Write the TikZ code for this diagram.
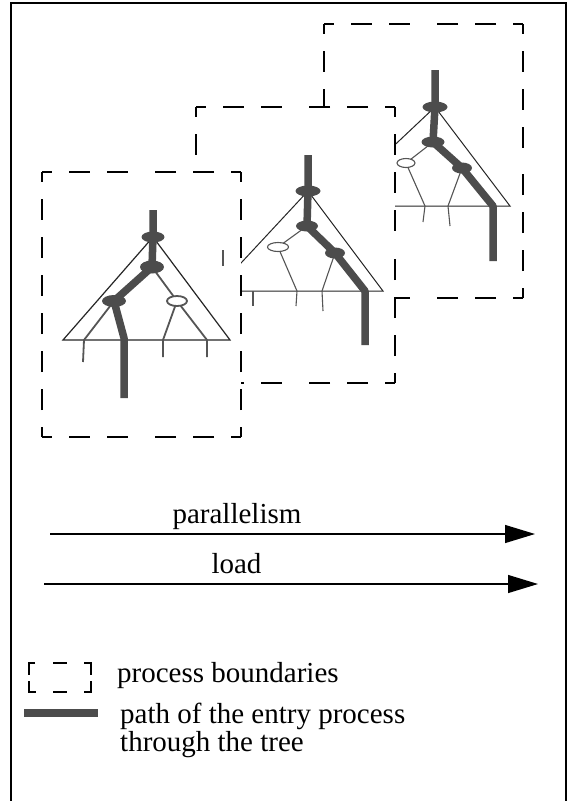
\documentclass[tikz,border=0pt]{standalone}
\usepackage{fontspec}
\setmainfont{Liberation Serif}
\usetikzlibrary{shapes.geometric,arrows.meta,calc}
\definecolor{pathgrey}{RGB}{76,76,76}
\definecolor{thingrey}{RGB}{85,85,85}
\newcommand\procbox[4]{%
  \fill[white] (#1,#2) rectangle (#3,#4);
  \foreach \ax/\ay/\bx/\by in {#1/#2/#3/#2, #3/#2/#3/#4, #3/#4/#1/#4, #1/#4/#1/#2}{%
    \draw[dashline] (\ax,\ay) -- ({(\ax+\bx)/2},{(\ay+\by)/2});
    \draw[dashline] (\bx,\by) -- ({(\ax+\bx)/2},{(\ay+\by)/2});
  }%
}
\begin{document}
\begin{tikzpicture}[x=1pt,y=-1pt,
  frameline/.style={line width=1.5pt,black},
  dashline/.style={line width=1.3pt,black,dash pattern=on 21pt off 17pt,dash phase=11pt},
  entrypath/.style={line width=7.5pt,draw=pathgrey,line join=round},
  twig/.style={line width=1.1pt,draw=thingrey},
  twigheavy/.style={line width=1.8pt,draw=thingrey},
  hull/.style={line width=1pt,draw=black!85},
  fnode/.style={ellipse,fill=pathgrey,draw=none,inner sep=0pt},
  onode/.style={ellipse,fill=white,draw=thingrey,line width=1.1pt,inner sep=0pt},
  lbl/.style={font=\fontsize{29}{24}\selectfont,inner sep=0pt},
  arr/.style={line width=1.2pt,-{Triangle[length=30pt,width=18pt]}},
  legdash/.style={line width=1.2pt,black}
]
\useasboundingbox (0,0) rectangle (577,801);
% outer frame
\draw[frameline] (11,801) -- (11,3) -- (566,3) -- (566,801);

% ---------- process 3 (back) ----------
\procbox{324}{24}{523}{298}
\coordinate (t3top) at (435,70);
\coordinate (t3a) at (435,107);
\coordinate (t3b) at (433,142);
\coordinate (t3c) at (462,168);
\coordinate (t3bend) at (493,206);
\coordinate (t3end) at (493,261);
\coordinate (t3d) at (406,163);
\coordinate (t3l) at (330,206);
\coordinate (t3r) at (510,206);
\coordinate (t3p1) at (425,206); \coordinate (t3q1) at (423,222);
\coordinate (t3p2) at (448,206); \coordinate (t3q2) at (450,226);
\draw[hull] (t3a) -- (t3l) -- (t3r) -- cycle;
\draw[twig] (t3b) -- (t3d);
\draw[twig] (t3d) -- (t3p1) -- (t3q1);
\draw[twig] (t3c) -- (t3p2) -- (t3q2);
\draw[entrypath] (t3top) -- (t3a) -- (t3b) -- (t3c) -- (t3bend) -- (t3end);
\node[fnode,minimum width=25pt,minimum height=11pt] (T3A) at (t3a) {};
\node[fnode,minimum width=23pt,minimum height=11pt] (T3B) at (t3b) {};
\node[fnode,minimum width=20pt,minimum height=11pt] (T3C) at (t3c) {};
\node[onode,minimum width=18pt,minimum height=9pt] (T3D) at (t3d) {};

% ---------- process 2 (middle) ----------
\procbox{196}{107}{395}{383}
\coordinate (t2top) at (308,155);
\coordinate (t2a) at (308,191);
\coordinate (t2b) at (307,226);
\coordinate (t2c) at (335,253);
\coordinate (t2bend) at (365,291);
\coordinate (t2end) at (365,345);
\coordinate (t2d) at (278,247);
\coordinate (t2l) at (215,291);
\coordinate (t2r) at (383,291);
\coordinate (t2p0) at (253,291); \coordinate (t2q0) at (253,306);
\coordinate (t2p1) at (297,291); \coordinate (t2q1) at (296,306);
\coordinate (t2p2) at (322,291); \coordinate (t2q2) at (323,311);
\draw[hull] (t2a) -- (t2l) -- (t2r) -- cycle;
\draw[twig] (t2p0) -- (t2q0);
\draw[twig] (t2b) -- (t2d);
\draw[twig] (t2d) -- (t2p1) -- (t2q1);
\draw[twig] (t2c) -- (t2p2) -- (t2q2);
\draw[entrypath] (t2top) -- (t2a) -- (t2b) -- (t2c) -- (t2bend) -- (t2end);
\node[fnode,minimum width=25pt,minimum height=11pt] (T2A) at (t2a) {};
\node[fnode,minimum width=22pt,minimum height=11pt] (T2B) at (t2b) {};
\node[fnode,minimum width=20pt,minimum height=11pt] (T2C) at (t2c) {};
\node[onode,minimum width=21pt,minimum height=9pt] (T2D) at (t2d) {};

% ---------- process 1 (front) ----------
\procbox{42}{172}{241}{437}
\coordinate (t2s1) at (223,250); \coordinate (t2s2) at (223,266);
\draw[twig] (t2s1) -- (t2s2);
\coordinate (t1top) at (153,210);
\coordinate (t1a) at (153,237);
\coordinate (t1b) at (152,267);
\coordinate (t1c) at (114,301);
\coordinate (t1bend) at (124,338);
\coordinate (t1end) at (124,398);
\coordinate (t1d) at (177,301);
\coordinate (t1l) at (63,340);
\coordinate (t1r) at (230,340);
\coordinate (t1p1) at (84,340); \coordinate (t1q1) at (83,362);
\coordinate (t1p2) at (163,340); \coordinate (t1q2) at (163,357);
\coordinate (t1p3) at (207,340); \coordinate (t1q3) at (207,357);
\draw[hull,line width=1.2pt] (t1a) -- (t1l) -- (t1r) -- cycle;
\draw[twigheavy] (t1c) -- (t1p1) -- (t1q1);
\draw[twigheavy] (t1b) -- (t1d);
\draw[twigheavy] (t1d) -- (t1p2) -- (t1q2);
\draw[twigheavy] (t1d) -- (t1p3) -- (t1q3);
\draw[entrypath] (t1top) -- (t1a) -- (t1b) -- (t1c) -- (t1bend) -- (t1end);
\node[fnode,minimum width=23pt,minimum height=11pt] (T1A) at (t1a) {};
\node[fnode,minimum width=24pt,minimum height=13pt] (T1B) at (t1b) {};
\node[fnode,minimum width=24pt,minimum height=12pt] (T1C) at (t1c) {};
\node[onode,line width=1.8pt,minimum width=20pt,minimum height=10pt] (T1D) at (t1d) {};

% ---------- arrows ----------
\node[lbl,anchor=base] (parlbl) at (237,523) {parallelism};
\coordinate (pars) at (50,534); \coordinate (pare) at (535,534);
\draw[arr] (pars) -- (pare);
\node[lbl,anchor=base] (loadlbl) at (236.5,573) {load};
\coordinate (loads) at (44,584); \coordinate (loade) at (538,584);
\draw[arr] (loads) -- (loade);

% ---------- legend ----------
\draw[legdash] (35,663) -- (29,663) -- (29,675);
\draw[legdash] (53,663) -- (67,663);
\draw[legdash] (84,663) -- (91,663) -- (91,675);
\draw[legdash] (29,681) -- (29,692) -- (36,692);
\draw[legdash] (53,692) -- (67,692);
\draw[legdash] (84,692) -- (91,692) -- (91,681);
\node[lbl,anchor=base west] (pblbl) at (117,682) {process boundaries};
\coordinate (legs) at (24,713); \coordinate (lege) at (98,713);
\draw[entrypath,line width=7.7pt] (legs) -- (lege);
\node[lbl,anchor=north west,align=left] (eplbl) at (120,703) {path of the entry process\\through the tree};
\end{tikzpicture}
\end{document}
